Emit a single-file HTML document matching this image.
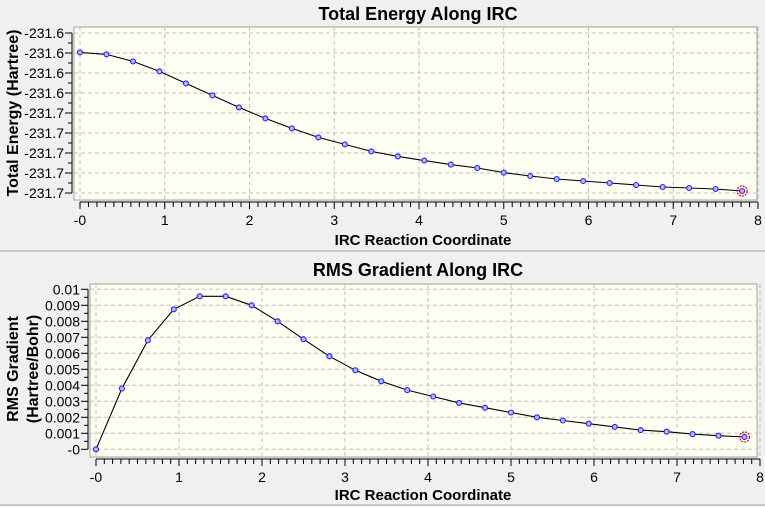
<!DOCTYPE html>
<html><head><meta charset="utf-8"><style>
html,body{margin:0;padding:0;background:#f0f0f0;}
svg{display:block;font-family:"Liberation Sans",Arial,sans-serif;}
</style></head><body>
<svg id="svg" width="765" height="507" xmlns="http://www.w3.org/2000/svg">
<rect x="0" y="0" width="765" height="507" fill="#f0f0f0"/>
<line x1="0" y1="251" x2="765" y2="251" stroke="#a0a0a0"/>
<line x1="0" y1="505" x2="765" y2="505" stroke="#a0a0a0"/>
<text x="418" y="20" text-anchor="middle" font-size="18" font-weight="bold">Total Energy Along IRC</text>
<text x="418" y="276" text-anchor="middle" font-size="18" font-weight="bold">RMS Gradient Along IRC</text>
<text x="423" y="245" text-anchor="middle" font-size="15" font-weight="bold">IRC Reaction Coordinate</text>
<text x="423" y="500" text-anchor="middle" font-size="15" font-weight="bold">IRC Reaction Coordinate</text>
<text transform="translate(18,113) rotate(-90)" text-anchor="middle" font-size="16" font-weight="bold">Total Energy (Hartree)</text>
<text transform="translate(18,369) rotate(-90)" text-anchor="middle" font-size="16" font-weight="bold">RMS Gradient</text>
<text transform="translate(38,369) rotate(-90)" text-anchor="middle" font-size="16" font-weight="bold">(Hartree/Bohr)</text>
<g id="g1"></g><g id="g2"></g>
</svg>
<script>
const xCoords=[0,0.3125,0.625,0.9375,1.25,1.5625,1.875,2.1875,2.5,2.8125,3.125,3.4375,3.75,4.0625,4.375,4.6875,5,5.3125,5.625,5.9375,6.25,6.5625,6.875,7.1875,7.5,7.8125];
const energyValues=[-231.6197,-231.6207,-231.6242,-231.6292,-231.6352,-231.6412,-231.6472,-231.6527,-231.6577,-231.6622,-231.6657,-231.6692,-231.6717,-231.6738,-231.6758,-231.6775,-231.6798,-231.6815,-231.6830,-231.6840,-231.6850,-231.6860,-231.6870,-231.6875,-231.6880,-231.6890];
const gradientValues=[0,0.0038,0.00681,0.00875,0.00956,0.00956,0.009,0.008,0.00688,0.00581,0.00494,0.00425,0.0037,0.0033,0.0029,0.0026,0.0023,0.0020,0.0018,0.0016,0.0014,0.0012,0.0011,0.00095,0.00085,0.00077];
const energyTicks=[-231.61,-231.62,-231.63,-231.64,-231.65,-231.66,-231.67,-231.68,-231.69];
const energyTickLabels=["-231.6","-231.6","-231.6","-231.6","-231.7","-231.7","-231.7","-231.7","-231.7"];
const gradTicks=[0.01,0.009,0.008,0.007,0.006,0.005,0.004,0.003,0.002,0.001,0];
const gradTickLabels=["0.01","0.009","0.008","0.007","0.006","0.005","0.004","0.003","0.002","0.001","-0"];
const xTicks=[0,1,2,3,4,5,6,7,8];
const xTickLabels=["-0","1","2","3","4","5","6","7","8"];
const NS="http://www.w3.org/2000/svg";
function mk(p,t,a){const e=document.createElementNS(NS,t);for(const k in a)e.setAttribute(k,a[k]);p.appendChild(e);return e;}
function chart(g,cfg,ys,ticks,labels){
  const X=v=>cfg.x0+v*cfg.xs, Y=v=>cfg.yTop+(ticks[0]-v)/(ticks[0]-ticks[1])*cfg.yStep;
  const bg=mk(g,'rect',{x:cfg.left,y:cfg.top,width:757-cfg.left,height:cfg.bottom-cfg.top,fill:'#fffff4',stroke:'#a0a0a0'});
  
  
  xTicks.forEach((t,i)=>{
    const l=mk(g,'line',{x1:X(t),x2:X(t),y1:cfg.top,y2:cfg.bottom,stroke:'#c0c0c0','stroke-dasharray':'4,3'});
    
    
    const tx=mk(g,'text',{x:X(t),y:cfg.axisY+23,'text-anchor':'middle','font-size':14});
    tx.textContent=xTickLabels[i];
    
    
  });
  for(let m=0;m<=80;m++){const v=m/10;mk(g,'line',{x1:X(v),x2:X(v),y1:cfg.axisY,y2:cfg.axisY+(m%10==0?7:5),stroke:'#000'});}
  const xa=mk(g,'line',{x1:X(0),x2:X(8),y1:cfg.axisY,y2:cfg.axisY,stroke:'#000'});
  
  
  const ya=mk(g,'line',{x1:cfg.yAxisX,x2:cfg.yAxisX,y1:Y(ticks[0]),y2:Y(ticks[ticks.length-1]),stroke:'#000'});
  
  
  ticks.forEach((t,i)=>{
    const y=Y(t);
    const l=mk(g,'line',{x1:cfg.left,x2:757,y1:y,y2:y,stroke:'#c0c0c0','stroke-dasharray':'4,3'});
    
    
    mk(g,'line',{x1:cfg.yAxisX-7,x2:cfg.yAxisX,y1:y,y2:y,stroke:'#000'});
    if(i<ticks.length-1){mk(g,'line',{x1:cfg.yAxisX-4,x2:cfg.yAxisX,y1:y+cfg.yStep/2,y2:y+cfg.yStep/2,stroke:'#000'});}
    const tx=mk(g,'text',{x:cfg.yAxisX-8,y:y+5,'text-anchor':'end','font-size':14});
    tx.textContent=labels[i];
    
    
  });
  const pts=xCoords.map((x,i)=>X(x).toFixed(1)+','+Y(ys[i]).toFixed(1)).join(' ');
  const pl=mk(g,'polyline',{points:pts,fill:'none',stroke:'#000','stroke-width':1.1});
  
  
  xCoords.forEach((x,i)=>{
    const c=mk(g,'circle',{cx:X(x),cy:Y(ys[i]),r:2.5,fill:'#b4bcd8',stroke:'#2020ff','stroke-width':1.1});
    
    
  });
  const n=xCoords.length-1;
  const hc=mk(g,'circle',{cx:X(xCoords[n]),cy:Y(ys[n]),r:5,fill:'none',stroke:'#e00000','stroke-width':1.2,'stroke-dasharray':'2,1'});
  
  
}
chart(document.getElementById('g1'),{left:74,top:27,bottom:200,axisY:202,x0:80,xs:84.75,yTop:33,yStep:20,yAxisX:72},energyValues,energyTicks,energyTickLabels);
chart(document.getElementById('g2'),{left:90,top:284,bottom:457,axisY:459,x0:96,xs:83,yTop:289.3,yStep:16,yAxisX:88},gradientValues,gradTicks,gradTickLabels);
</script>
</body></html>
